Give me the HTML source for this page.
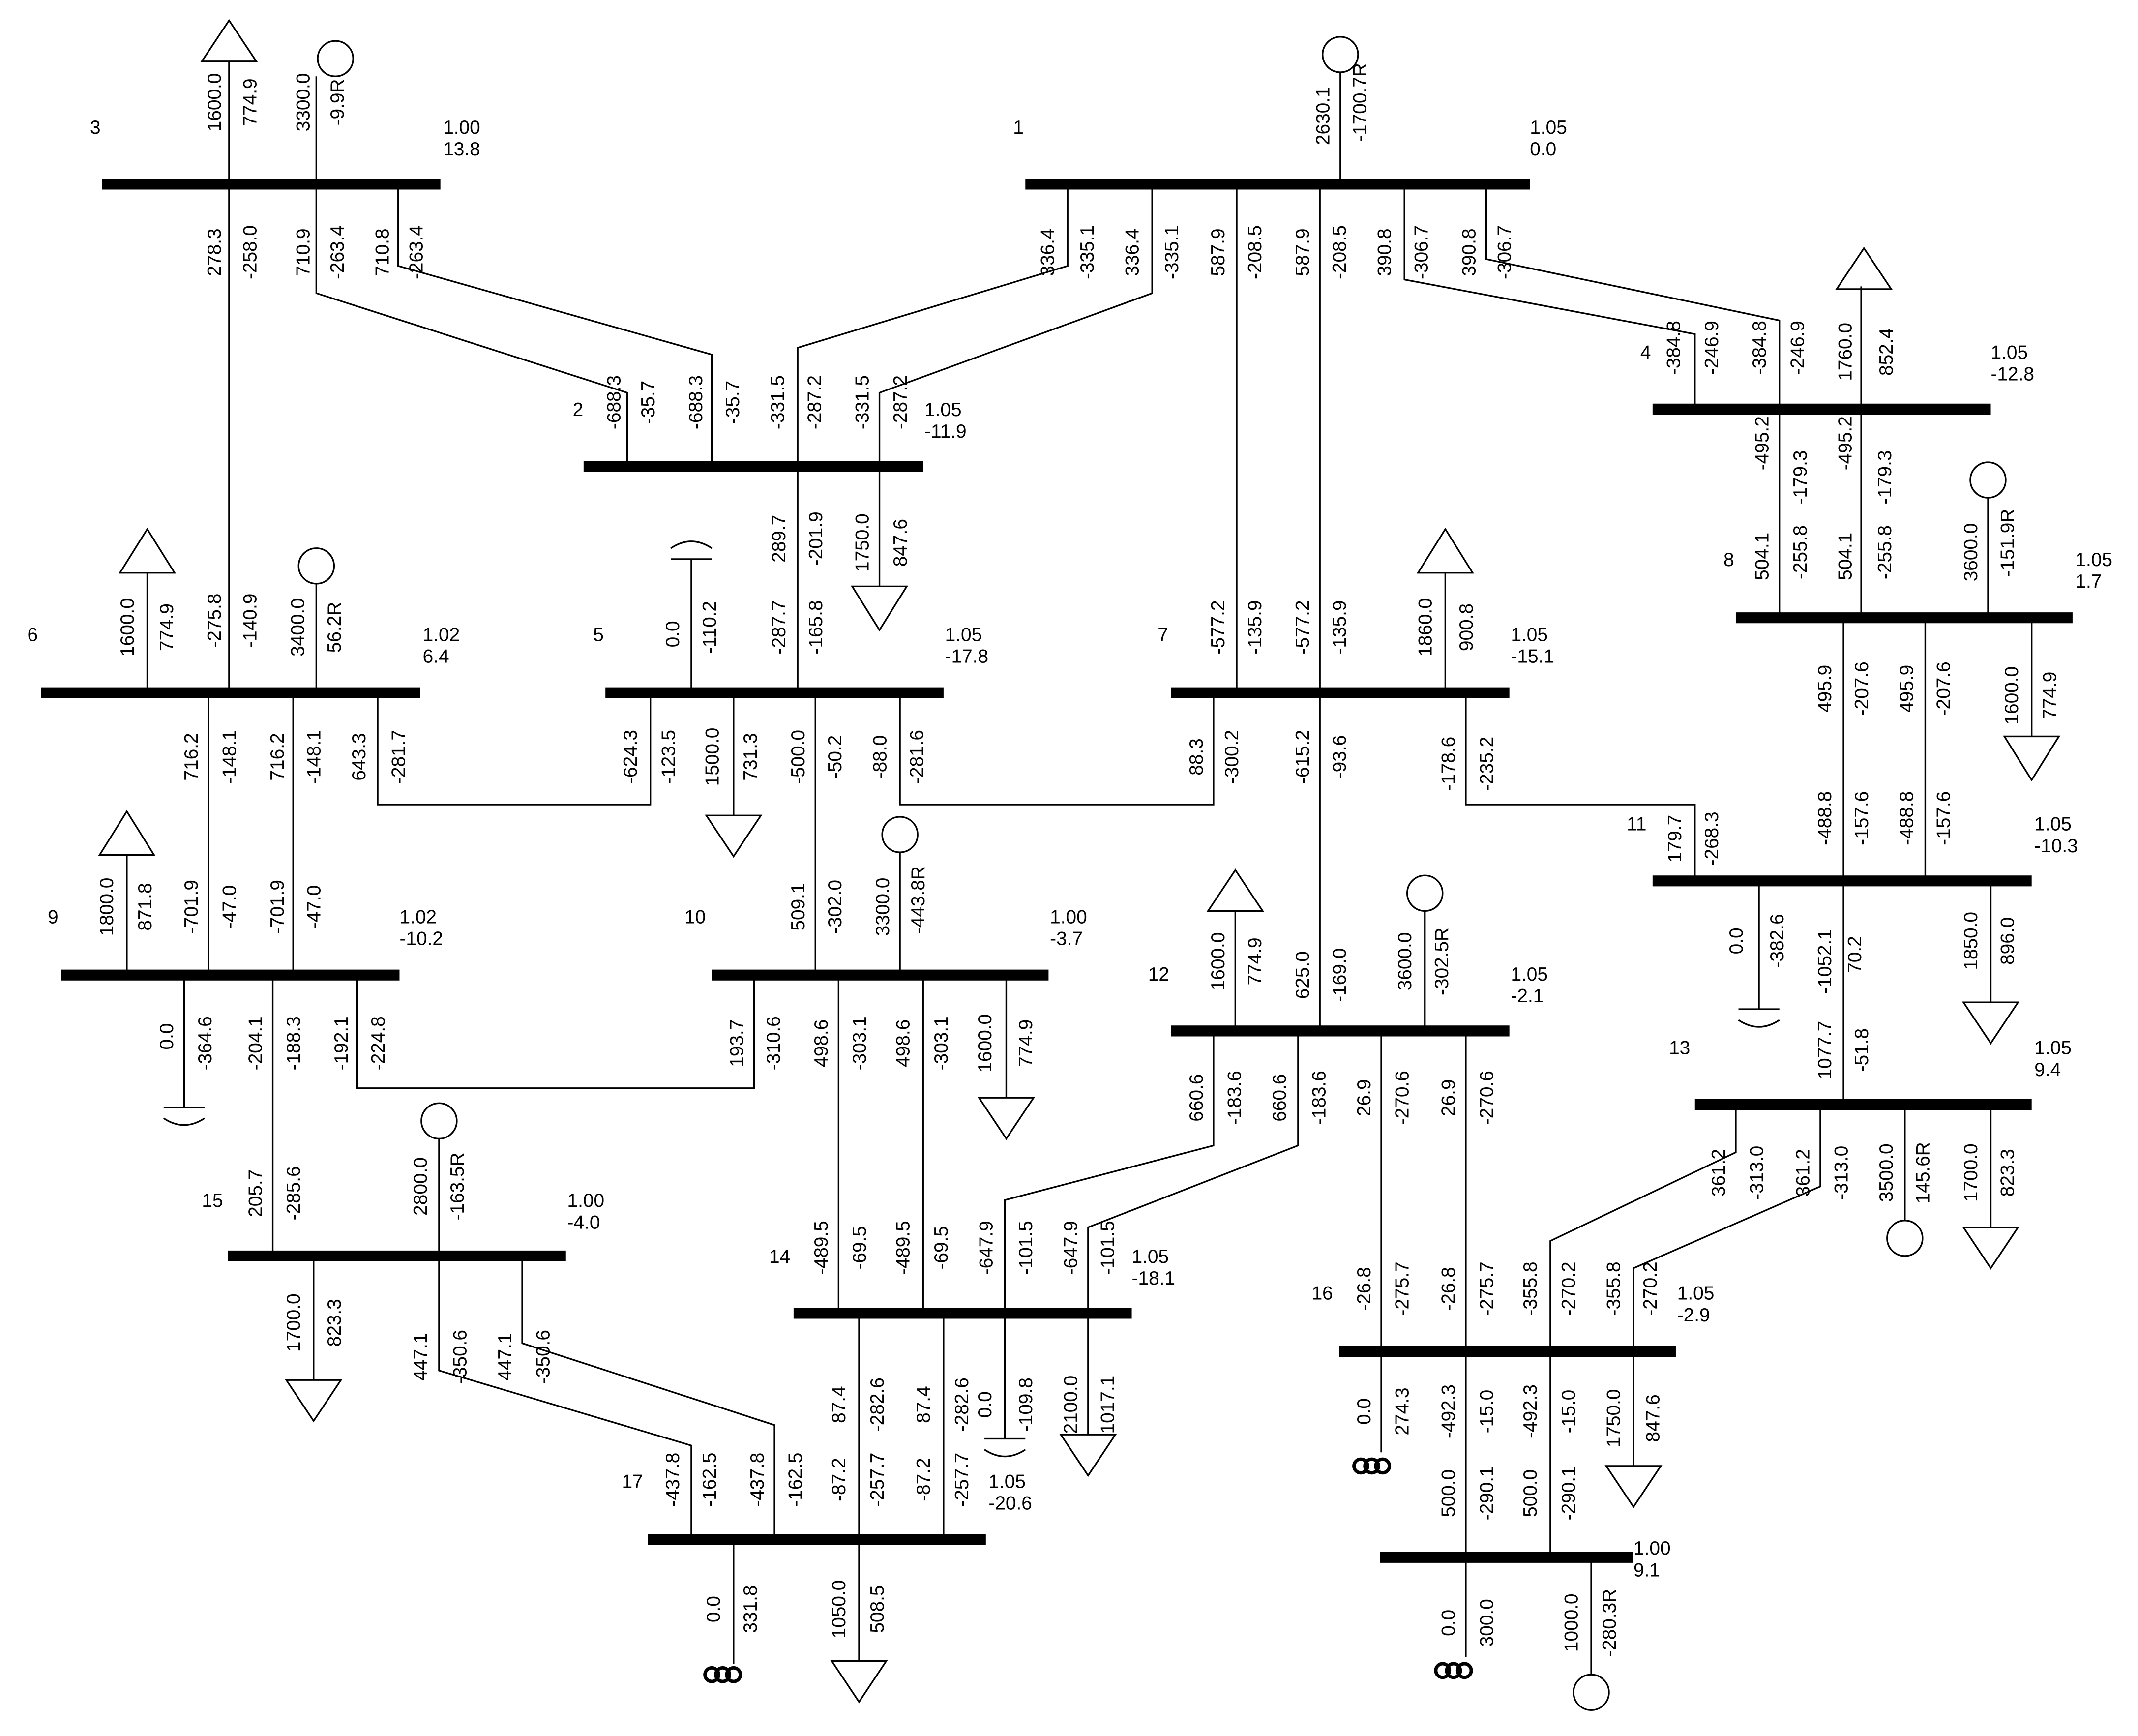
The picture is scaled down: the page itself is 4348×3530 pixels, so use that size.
<!DOCTYPE html>
<html><head><meta charset="utf-8"><style>
html,body{margin:0;padding:0;background:#fff}
svg{display:block}
text{font-family:"Liberation Sans",sans-serif;font-size:14px;fill:#000}
.v{text-anchor:middle}
</style></head><body>
<svg width="4348" height="3530" viewBox="0 0 1568 1273" xmlns="http://www.w3.org/2000/svg">
<g stroke="#000" stroke-width="1.2" fill="none">
<!-- buses -->
<g stroke-width="8">
<line x1="75" y1="135" x2="323" y2="135"/>
<line x1="752" y1="135" x2="1122" y2="135"/>
<line x1="428" y1="342" x2="677" y2="342"/>
<line x1="1212" y1="300" x2="1460" y2="300"/>
<line x1="30" y1="508" x2="308" y2="508"/>
<line x1="444" y1="508" x2="692" y2="508"/>
<line x1="859" y1="508" x2="1107" y2="508"/>
<line x1="1273" y1="453" x2="1520" y2="453"/>
<line x1="1212" y1="646" x2="1490" y2="646"/>
<line x1="45" y1="715" x2="293" y2="715"/>
<line x1="522" y1="715" x2="769" y2="715"/>
<line x1="859" y1="756" x2="1107" y2="756"/>
<line x1="1243" y1="810" x2="1490" y2="810"/>
<line x1="167" y1="921" x2="415" y2="921"/>
<line x1="582" y1="963" x2="830" y2="963"/>
<line x1="982" y1="991" x2="1229" y2="991"/>
<line x1="475" y1="1129" x2="723" y2="1129"/>
<line x1="1012" y1="1142" x2="1198" y2="1142"/>
</g>
<!-- branches -->
<polyline points="168,45 168,508"/>
<polyline points="232,56 232,215 460,288 460,342"/>
<polyline points="292,135 292,195 522,260 522,342"/>
<polyline points="983,53 983,135"/>
<polyline points="783,135 783,195 585,255 585,508"/>
<polyline points="845,135 845,215 645,288 645,430"/>
<polyline points="907,135 907,508"/>
<polyline points="968,135 968,756"/>
<polyline points="1030,135 1030,205 1243,245 1243,300"/>
<polyline points="1090,135 1090,190 1305,235 1305,453"/>
<polyline points="1365,210 1365,453"/>
<polyline points="1458,365 1458,453"/>
<polyline points="1352,453 1352,810"/>
<polyline points="1412,453 1412,646"/>
<polyline points="1490,453 1490,540"/>
<polyline points="1290,646 1290,740"/>
<polyline points="1460,646 1460,735"/>
<polyline points="1075,508 1075,590 1243,590 1243,646"/>
<polyline points="1060,420 1060,508"/>
<polyline points="890,508 890,590 660,590 660,508"/>
<polyline points="507,410 507,508"/>
<polyline points="598,508 598,715"/>
<polyline points="660,625 660,715"/>
<polyline points="538,508 538,598"/>
<polyline points="477,508 477,590 277,590 277,508"/>
<polyline points="108,420 108,508"/>
<polyline points="232,428 232,508"/>
<polyline points="153,508 153,715"/>
<polyline points="215,508 215,715"/>
<polyline points="93,627 93,715"/>
<polyline points="135,715 135,812"/>
<polyline points="200,715 200,921"/>
<polyline points="262,715 262,798 553,798 553,715"/>
<polyline points="615,715 615,963"/>
<polyline points="677,715 677,963"/>
<polyline points="738,715 738,805"/>
<polyline points="906,668 906,756"/>
<polyline points="1045,668 1045,756"/>
<polyline points="890,756 890,840 737,880 737,1055"/>
<polyline points="952,756 952,840 798,900 798,1052"/>
<polyline points="1013,756 1013,1065"/>
<polyline points="1075,756 1075,1215"/>
<polyline points="1273,810 1273,845 1137,910 1137,1142"/>
<polyline points="1335,810 1335,870 1198,930 1198,1075"/>
<polyline points="1397,810 1397,895"/>
<polyline points="1460,810 1460,900"/>
<polyline points="1167,1142 1167,1228"/>
<polyline points="230,921 230,1012"/>
<polyline points="322,835 322,1005 507,1060 507,1129"/>
<polyline points="383,921 383,985 568,1045 568,1129"/>
<polyline points="630,963 630,1218"/>
<polyline points="692,963 692,1129"/>
<polyline points="538,1129 538,1220"/>
<!-- load triangles up -->
<polygon points="168,15 148,45 188,45"/>
<polygon points="108,388 88,420 128,420"/>
<polygon points="93,595 73,627 113,627"/>
<polygon points="1060,388 1040,420 1080,420"/>
<polygon points="1367,182 1347,212 1387,212"/>
<polygon points="906,638 886,668 926,668"/>
<!-- load triangles down -->
<polygon points="625,430 665,430 645,462"/>
<polygon points="518,598 558,598 538,628"/>
<polygon points="1470,540 1510,540 1490,572"/>
<polygon points="1440,735 1480,735 1460,765"/>
<polygon points="718,805 758,805 738,835"/>
<polygon points="1440,900 1480,900 1460,930"/>
<polygon points="210,1012 250,1012 230,1042"/>
<polygon points="778,1052 818,1052 798,1082"/>
<polygon points="1178,1075 1218,1075 1198,1105"/>
<polygon points="610,1218 650,1218 630,1248"/>
<!-- generators -->
<circle cx="246" cy="43" r="13"/>
<line x1="232" y1="56" x2="232" y2="56"/>
<circle cx="983" cy="40" r="13"/>
<circle cx="1458" cy="352" r="13"/>
<circle cx="660" cy="612" r="13"/>
<circle cx="232" cy="415" r="13"/>
<circle cx="1045" cy="655" r="13"/>
<circle cx="1397" cy="908" r="13"/>
<circle cx="322" cy="822" r="13"/>
<circle cx="1167" cy="1241" r="13"/>
<!-- shunt capacitors -->
<line x1="492" y1="410" x2="522" y2="410"/><path d="M492,402 Q507,392 522,402"/>
<line x1="120" y1="812" x2="150" y2="812"/><path d="M120,820 Q135,830 150,820"/>
<line x1="1275" y1="740" x2="1305" y2="740"/><path d="M1275,748 Q1290,758 1305,748"/>
<line x1="722" y1="1055" x2="752" y2="1055"/><path d="M722,1063 Q737,1073 752,1063"/>
<!-- reactors -->
<g stroke-width="2.5">
<circle cx="522" cy="1228" r="5"/><circle cx="530" cy="1228" r="5"/><circle cx="538" cy="1228" r="5"/>
<circle cx="1058" cy="1225" r="5"/><circle cx="1066" cy="1225" r="5"/><circle cx="1074" cy="1225" r="5"/>
<circle cx="998" cy="1075" r="5"/><circle cx="1006" cy="1075" r="5"/><circle cx="1014" cy="1075" r="5"/>
</g>
</g>
<!-- bus labels -->
<g>
<text x="66" y="98">3</text><text x="325" y="98">1.00</text><text x="325" y="114">13.8</text>
<text x="743" y="98">1</text><text x="1122" y="98">1.05</text><text x="1122" y="114">0.0</text>
<text x="420" y="305">2</text><text x="678" y="305">1.05</text><text x="678" y="321">-11.9</text>
<text x="1203" y="263">4</text><text x="1460" y="263">1.05</text><text x="1460" y="279">-12.8</text>
<text x="20" y="470">6</text><text x="310" y="470">1.02</text><text x="310" y="486">6.4</text>
<text x="435" y="470">5</text><text x="693" y="470">1.05</text><text x="693" y="486">-17.8</text>
<text x="849" y="470">7</text><text x="1108" y="470">1.05</text><text x="1108" y="486">-15.1</text>
<text x="1264" y="415">8</text><text x="1522" y="415">1.05</text><text x="1522" y="431">1.7</text>
<text x="1193" y="609">11</text><text x="1492" y="609">1.05</text><text x="1492" y="625">-10.3</text>
<text x="35" y="677">9</text><text x="293" y="677">1.02</text><text x="293" y="693">-10.2</text>
<text x="502" y="677">10</text><text x="770" y="677">1.00</text><text x="770" y="693">-3.7</text>
<text x="842" y="719">12</text><text x="1108" y="719">1.05</text><text x="1108" y="735">-2.1</text>
<text x="1224" y="773">13</text><text x="1492" y="773">1.05</text><text x="1492" y="789">9.4</text>
<text x="148" y="885">15</text><text x="416" y="885">1.00</text><text x="416" y="901">-4.0</text>
<text x="564" y="926">14</text><text x="830" y="926">1.05</text><text x="830" y="942">-18.1</text>
<text x="962" y="953">16</text><text x="1230" y="953">1.05</text><text x="1230" y="969">-2.9</text>
<text x="456" y="1091">17</text><text x="725" y="1091">1.05</text><text x="725" y="1107">-20.6</text>
<text x="1198" y="1140">1.00</text><text x="1198" y="1156">9.1</text>
</g>
<!-- vertical flow labels -->
<g class="v">
<text transform="translate(162,75) rotate(-90)">1600.0</text><text transform="translate(188,75) rotate(-90)">774.9</text>
<text transform="translate(227,75) rotate(-90)">3300.0</text><text transform="translate(252,75) rotate(-90)">-9.9R</text>
<text transform="translate(162,185) rotate(-90)">278.3</text><text transform="translate(188,185) rotate(-90)">-258.0</text>
<text transform="translate(227,185) rotate(-90)">710.9</text><text transform="translate(252,185) rotate(-90)">-263.4</text>
<text transform="translate(285,185) rotate(-90)">710.8</text><text transform="translate(310,185) rotate(-90)">-263.4</text>
<text transform="translate(455,295) rotate(-90)">-688.3</text><text transform="translate(480,295) rotate(-90)">-35.7</text>
<text transform="translate(515,295) rotate(-90)">-688.3</text><text transform="translate(542,295) rotate(-90)">-35.7</text>
<text transform="translate(575,295) rotate(-90)">-331.5</text><text transform="translate(602,295) rotate(-90)">-287.2</text>
<text transform="translate(637,295) rotate(-90)">-331.5</text><text transform="translate(665,295) rotate(-90)">-287.2</text>
<text transform="translate(975,85) rotate(-90)">2630.1</text><text transform="translate(1002,75) rotate(-90)">-1700.7R</text>
<text transform="translate(773,185) rotate(-90)">336.4</text><text transform="translate(802,185) rotate(-90)">-335.1</text>
<text transform="translate(835,185) rotate(-90)">336.4</text><text transform="translate(864,185) rotate(-90)">-335.1</text>
<text transform="translate(898,185) rotate(-90)">587.9</text><text transform="translate(925,185) rotate(-90)">-208.5</text>
<text transform="translate(960,185) rotate(-90)">587.9</text><text transform="translate(987,185) rotate(-90)">-208.5</text>
<text transform="translate(1020,185) rotate(-90)">390.8</text><text transform="translate(1047,185) rotate(-90)">-306.7</text>
<text transform="translate(1082,185) rotate(-90)">390.8</text><text transform="translate(1108,185) rotate(-90)">-306.7</text>
<text transform="translate(1232,255) rotate(-90)">-384.8</text><text transform="translate(1260,255) rotate(-90)">-246.9</text>
<text transform="translate(1295,255) rotate(-90)">-384.8</text><text transform="translate(1323,255) rotate(-90)">-246.9</text>
<text transform="translate(1358,258) rotate(-90)">1760.0</text><text transform="translate(1388,258) rotate(-90)">852.4</text>
<text transform="translate(1297,325) rotate(-90)">-495.2</text><text transform="translate(1325,350) rotate(-90)">-179.3</text>
<text transform="translate(1358,325) rotate(-90)">-495.2</text><text transform="translate(1387,350) rotate(-90)">-179.3</text>
<text transform="translate(1297,408) rotate(-90)">504.1</text><text transform="translate(1325,405) rotate(-90)">-255.8</text>
<text transform="translate(1358,408) rotate(-90)">504.1</text><text transform="translate(1387,405) rotate(-90)">-255.8</text>
<text transform="translate(1450,405) rotate(-90)">3600.0</text><text transform="translate(1477,398) rotate(-90)">-151.9R</text>
<text transform="translate(1343,505) rotate(-90)">495.9</text><text transform="translate(1370,505) rotate(-90)">-207.6</text>
<text transform="translate(1403,505) rotate(-90)">495.9</text><text transform="translate(1430,505) rotate(-90)">-207.6</text>
<text transform="translate(1480,510) rotate(-90)">1600.0</text><text transform="translate(1508,510) rotate(-90)">774.9</text>
<text transform="translate(1343,600) rotate(-90)">-488.8</text><text transform="translate(1370,600) rotate(-90)">-157.6</text>
<text transform="translate(1403,600) rotate(-90)">-488.8</text><text transform="translate(1430,600) rotate(-90)">-157.6</text>
<text transform="translate(1233,615) rotate(-90)">179.7</text><text transform="translate(1260,615) rotate(-90)">-268.3</text>
<text transform="translate(1278,690) rotate(-90)">0.0</text><text transform="translate(1308,690) rotate(-90)">-382.6</text>
<text transform="translate(1343,705) rotate(-90)">-1052.1</text><text transform="translate(1365,700) rotate(-90)">70.2</text>
<text transform="translate(1450,690) rotate(-90)">1850.0</text><text transform="translate(1477,690) rotate(-90)">896.0</text>
<text transform="translate(1343,770) rotate(-90)">1077.7</text><text transform="translate(1370,770) rotate(-90)">-51.8</text>
<text transform="translate(1050,460) rotate(-90)">1860.0</text><text transform="translate(1080,460) rotate(-90)">900.8</text>
<text transform="translate(898,460) rotate(-90)">-577.2</text><text transform="translate(925,460) rotate(-90)">-135.9</text>
<text transform="translate(960,460) rotate(-90)">-577.2</text><text transform="translate(987,460) rotate(-90)">-135.9</text>
<text transform="translate(882,555) rotate(-90)">88.3</text><text transform="translate(908,555) rotate(-90)">-300.2</text>
<text transform="translate(960,555) rotate(-90)">-615.2</text><text transform="translate(987,555) rotate(-90)">-93.6</text>
<text transform="translate(1067,560) rotate(-90)">-178.6</text><text transform="translate(1095,560) rotate(-90)">-235.2</text>
<text transform="translate(576,395) rotate(-90)">289.7</text><text transform="translate(603,395) rotate(-90)">-201.9</text>
<text transform="translate(637,398) rotate(-90)">1750.0</text><text transform="translate(665,398) rotate(-90)">847.6</text>
<text transform="translate(498,465) rotate(-90)">0.0</text><text transform="translate(525,460) rotate(-90)">-110.2</text>
<text transform="translate(576,460) rotate(-90)">-287.7</text><text transform="translate(603,460) rotate(-90)">-165.8</text>
<text transform="translate(467,555) rotate(-90)">-624.3</text><text transform="translate(495,555) rotate(-90)">-123.5</text>
<text transform="translate(527,555) rotate(-90)">1500.0</text><text transform="translate(555,555) rotate(-90)">731.3</text>
<text transform="translate(590,555) rotate(-90)">-500.0</text><text transform="translate(617,555) rotate(-90)">-50.2</text>
<text transform="translate(650,555) rotate(-90)">-88.0</text><text transform="translate(677,555) rotate(-90)">-281.6</text>
<text transform="translate(590,665) rotate(-90)">509.1</text><text transform="translate(617,665) rotate(-90)">-302.0</text>
<text transform="translate(652,665) rotate(-90)">3300.0</text><text transform="translate(678,660) rotate(-90)">-443.8R</text>
<text transform="translate(98,460) rotate(-90)">1600.0</text><text transform="translate(127,460) rotate(-90)">774.9</text>
<text transform="translate(162,455) rotate(-90)">-275.8</text><text transform="translate(188,455) rotate(-90)">-140.9</text>
<text transform="translate(223,460) rotate(-90)">3400.0</text><text transform="translate(250,460) rotate(-90)">56.2R</text>
<text transform="translate(145,555) rotate(-90)">716.2</text><text transform="translate(173,555) rotate(-90)">-148.1</text>
<text transform="translate(208,555) rotate(-90)">716.2</text><text transform="translate(235,555) rotate(-90)">-148.1</text>
<text transform="translate(268,555) rotate(-90)">643.3</text><text transform="translate(297,555) rotate(-90)">-281.7</text>
<text transform="translate(83,665) rotate(-90)">1800.0</text><text transform="translate(111,665) rotate(-90)">871.8</text>
<text transform="translate(145,665) rotate(-90)">-701.9</text><text transform="translate(173,665) rotate(-90)">-47.0</text>
<text transform="translate(208,665) rotate(-90)">-701.9</text><text transform="translate(235,665) rotate(-90)">-47.0</text>
<text transform="translate(127,760) rotate(-90)">0.0</text><text transform="translate(155,765) rotate(-90)">-364.6</text>
<text transform="translate(192,765) rotate(-90)">-204.1</text><text transform="translate(220,765) rotate(-90)">-188.3</text>
<text transform="translate(255,765) rotate(-90)">-192.1</text><text transform="translate(282,765) rotate(-90)">-224.8</text>
<text transform="translate(545,765) rotate(-90)">193.7</text><text transform="translate(572,765) rotate(-90)">-310.6</text>
<text transform="translate(607,765) rotate(-90)">498.6</text><text transform="translate(635,765) rotate(-90)">-303.1</text>
<text transform="translate(667,765) rotate(-90)">498.6</text><text transform="translate(695,765) rotate(-90)">-303.1</text>
<text transform="translate(727,765) rotate(-90)">1600.0</text><text transform="translate(757,765) rotate(-90)">774.9</text>
<text transform="translate(192,875) rotate(-90)">205.7</text><text transform="translate(220,875) rotate(-90)">-285.6</text>
<text transform="translate(313,870) rotate(-90)">2800.0</text><text transform="translate(340,870) rotate(-90)">-163.5R</text>
<text transform="translate(220,970) rotate(-90)">1700.0</text><text transform="translate(250,970) rotate(-90)">823.3</text>
<text transform="translate(313,995) rotate(-90)">447.1</text><text transform="translate(342,995) rotate(-90)">-350.6</text>
<text transform="translate(375,995) rotate(-90)">447.1</text><text transform="translate(403,995) rotate(-90)">-350.6</text>
<text transform="translate(498,1085) rotate(-90)">-437.8</text><text transform="translate(525,1085) rotate(-90)">-162.5</text>
<text transform="translate(560,1085) rotate(-90)">-437.8</text><text transform="translate(588,1085) rotate(-90)">-162.5</text>
<text transform="translate(898,705) rotate(-90)">1600.0</text><text transform="translate(925,705) rotate(-90)">774.9</text>
<text transform="translate(960,715) rotate(-90)">625.0</text><text transform="translate(987,715) rotate(-90)">-169.0</text>
<text transform="translate(1035,705) rotate(-90)">3600.0</text><text transform="translate(1062,705) rotate(-90)">-302.5R</text>
<text transform="translate(882,805) rotate(-90)">660.6</text><text transform="translate(910,805) rotate(-90)">-183.6</text>
<text transform="translate(943,805) rotate(-90)">660.6</text><text transform="translate(972,805) rotate(-90)">-183.6</text>
<text transform="translate(1005,805) rotate(-90)">26.9</text><text transform="translate(1033,805) rotate(-90)">-270.6</text>
<text transform="translate(1067,805) rotate(-90)">26.9</text><text transform="translate(1095,805) rotate(-90)">-270.6</text>
<text transform="translate(607,915) rotate(-90)">-489.5</text><text transform="translate(635,915) rotate(-90)">-69.5</text>
<text transform="translate(667,915) rotate(-90)">-489.5</text><text transform="translate(695,915) rotate(-90)">-69.5</text>
<text transform="translate(728,915) rotate(-90)">-647.9</text><text transform="translate(757,915) rotate(-90)">-101.5</text>
<text transform="translate(790,915) rotate(-90)">-647.9</text><text transform="translate(817,915) rotate(-90)">-101.5</text>
<text transform="translate(620,1030) rotate(-90)">87.4</text><text transform="translate(648,1030) rotate(-90)">-282.6</text>
<text transform="translate(682,1030) rotate(-90)">87.4</text><text transform="translate(710,1030) rotate(-90)">-282.6</text>
<text transform="translate(727,1030) rotate(-90)">0.0</text><text transform="translate(757,1030) rotate(-90)">-109.8</text>
<text transform="translate(790,1030) rotate(-90)">2100.0</text><text transform="translate(817,1030) rotate(-90)">1017.1</text>
<text transform="translate(620,1085) rotate(-90)">-87.2</text><text transform="translate(648,1085) rotate(-90)">-257.7</text>
<text transform="translate(682,1085) rotate(-90)">-87.2</text><text transform="translate(710,1085) rotate(-90)">-257.7</text>
<text transform="translate(528,1180) rotate(-90)">0.0</text><text transform="translate(555,1180) rotate(-90)">331.8</text>
<text transform="translate(620,1180) rotate(-90)">1050.0</text><text transform="translate(648,1180) rotate(-90)">508.5</text>
<text transform="translate(1265,860) rotate(-90)">361.2</text><text transform="translate(1293,860) rotate(-90)">-313.0</text>
<text transform="translate(1327,860) rotate(-90)">361.2</text><text transform="translate(1355,860) rotate(-90)">-313.0</text>
<text transform="translate(1388,860) rotate(-90)">3500.0</text><text transform="translate(1415,860) rotate(-90)">145.6R</text>
<text transform="translate(1450,860) rotate(-90)">1700.0</text><text transform="translate(1477,860) rotate(-90)">823.3</text>
<text transform="translate(1005,945) rotate(-90)">-26.8</text><text transform="translate(1033,945) rotate(-90)">-275.7</text>
<text transform="translate(1067,945) rotate(-90)">-26.8</text><text transform="translate(1095,945) rotate(-90)">-275.7</text>
<text transform="translate(1127,945) rotate(-90)">-355.8</text><text transform="translate(1155,945) rotate(-90)">-270.2</text>
<text transform="translate(1188,945) rotate(-90)">-355.8</text><text transform="translate(1215,945) rotate(-90)">-270.2</text>
<text transform="translate(1005,1035) rotate(-90)">0.0</text><text transform="translate(1033,1035) rotate(-90)">274.3</text>
<text transform="translate(1067,1035) rotate(-90)">-492.3</text><text transform="translate(1095,1035) rotate(-90)">-15.0</text>
<text transform="translate(1127,1035) rotate(-90)">-492.3</text><text transform="translate(1155,1035) rotate(-90)">-15.0</text>
<text transform="translate(1188,1040) rotate(-90)">1750.0</text><text transform="translate(1217,1040) rotate(-90)">847.6</text>
<text transform="translate(1067,1095) rotate(-90)">500.0</text><text transform="translate(1095,1095) rotate(-90)">-290.1</text>
<text transform="translate(1127,1095) rotate(-90)">500.0</text><text transform="translate(1155,1095) rotate(-90)">-290.1</text>
<text transform="translate(1067,1190) rotate(-90)">0.0</text><text transform="translate(1095,1190) rotate(-90)">300.0</text>
<text transform="translate(1157,1190) rotate(-90)">1000.0</text><text transform="translate(1185,1190) rotate(-90)">-280.3R</text>
</g>
</svg>
</body></html>
